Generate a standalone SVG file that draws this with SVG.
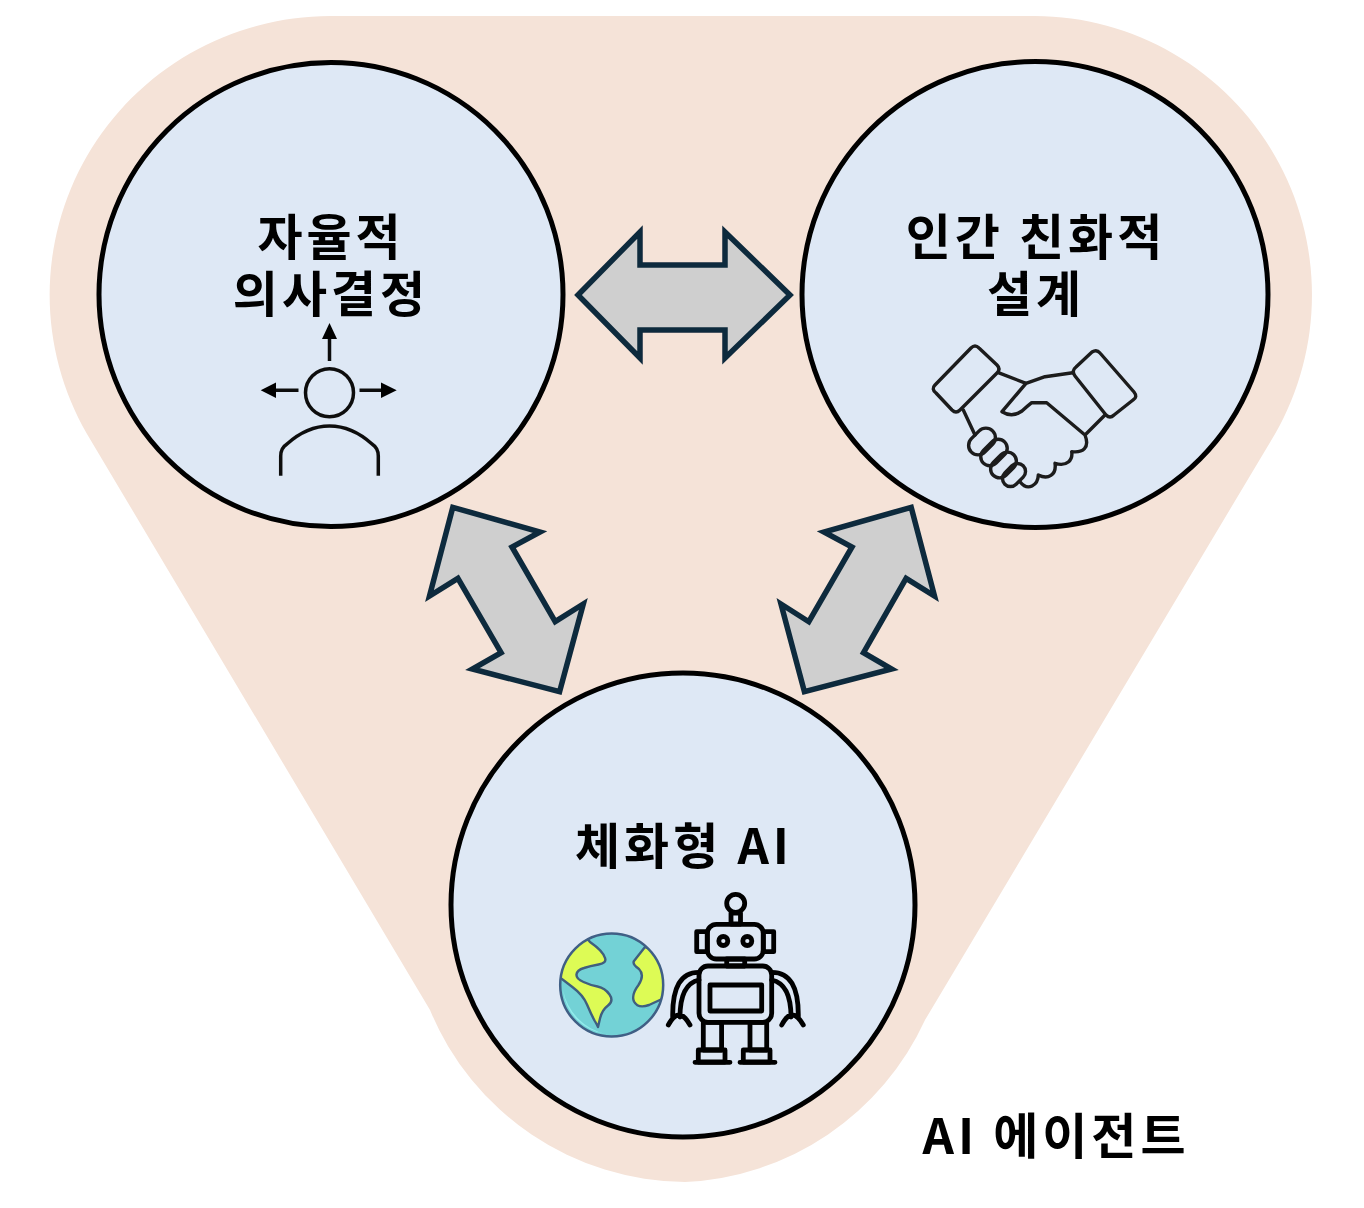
<svg xmlns="http://www.w3.org/2000/svg" width="1364" height="1208" viewBox="0 0 1364 1208">
<style>
.c{fill:#DEE8F5;stroke:#000;stroke-width:5}
.a{fill:#CFCFCF;stroke:#0F2A3C;stroke-width:5.500;stroke-linejoin:miter;stroke-miterlimit:10}
.t{font-family:"Noto Sans CJK KR","Noto Sans",sans-serif;font-weight:700;font-size:49px;letter-spacing:4px;text-anchor:middle;fill:#000}
.i{fill:none;stroke:#111;stroke-width:3.500;stroke-linejoin:round}
.h{fill:none;stroke:#1c1c1c;stroke-width:3.400;stroke-linejoin:round;stroke-linecap:round}
.r{fill:none;stroke:#000;stroke-width:4.800;stroke-linejoin:round;stroke-linecap:round}
.l{fill:#DDFB55;stroke:#3F5F7F;stroke-width:2.400;stroke-linejoin:round}
</style>
<defs>
<filter id="soft" x="0" y="0" width="100%" height="100%"><feGaussianBlur stdDeviation="0.600"/></filter>
<clipPath id="globe"><circle cx="611.700" cy="985" r="51.500"/></clipPath>
</defs>
<rect width="1364" height="1208" fill="#fff"/>
<g filter="url(#soft)">
<path id="blob" fill="#F5E3D8" d="M330 16H1035A278 279 0 0 1 1275 434L925 1020A278 278 0 0 1 685 1182A278 278 0 0 1 430 1010L87 434A281 279 0 0 1 330 16Z"/>
<g id="connectors">
<path class="a" d="M578 295L640 232V265H725V232L790 295L725 358V330H640V358Z"/>
<path class="a" d="M452.800 507.300L540 532L512 547L555.200 621.700L583.300 604L559.600 691.700L472.400 669L501.100 652.700L457.900 578.300L429.500 596Z"/>
<path class="a" d="M911.200 507.300L824 532L852 547L808.800 621.700L781 604L804.400 691.700L891.600 669L863.500 652.700L906.100 578.300L934.500 596Z"/>
</g>
<g id="node-autonomy">
<circle class="c" cx="331" cy="294.500" r="232"/>
<text class="t"><tspan x="331" y="255">자율적</tspan><tspan x="331" y="312">의사결정</tspan></text>
<circle class="i" cx="329.500" cy="392.700" r="24"/>
<path class="i" d="M329.500 361V335M298.500 390.300H272M359.500 390.300H386M280.700 475.700V456Q280.700 448 287 444Q307 426 329.500 426Q352 426 372 444Q378.300 448 378.300 456V475.700"/>
<path fill="#000" d="M329.500 323L337 339H322ZM260.700 390.300L276 382.500V398ZM396.700 390.300L381 382.500V398Z"/>
</g>
<g id="node-human">
<circle class="c" cx="1035" cy="294.500" r="233"/>
<text class="t"><tspan x="1036" y="255">인간 친화적</tspan><tspan x="1036" y="312">설계</tspan></text>
<path class="h" d="M971 348Q975 344 979 348L997 365Q1001 369 997 373L960 410Q956 414 952 410L936 393Q931 389 935 385Z"/>
<path class="h" d="M1092 352Q1096.700 349 1100 353L1134 392Q1138 397 1133 400L1114 415Q1110 419 1106 415L1075 376Q1071 371 1076 367Z"/>
<path class="h" d="M998.300 372.700L1026 383.300L1045 376.700L1072.700 372.700M1026 383.300L1002 411.700Q1012 418 1022 411Q1026.700 406.700 1031.700 402.700H1046.700L1085 435L1105 415M1085 435C1090 448 1083 453 1071.700 451.700C1073 460 1067 467 1055 463.300C1056.700 475 1048 480 1038.300 475C1038 485 1028 492 1020 481.700M963.300 410L975 435"/>
<g class="h">
<rect x="967" y="432" width="30" height="19" rx="9.500" transform="rotate(-45 982 441.500)"/>
<rect x="979" y="443.500" width="30" height="18" rx="9" transform="rotate(-45 994 452.500)"/>
<rect x="989" y="456" width="29" height="18" rx="9" transform="rotate(-45 1003.500 465)"/>
<rect x="1001" y="467" width="26" height="16" rx="8" transform="rotate(-45 1014 475)"/>
</g>
</g>
<g id="node-embodied">
<circle class="c" cx="683" cy="905" r="232"/>
<text class="t" x="684" y="864">체화형 AI</text>
<circle cx="611.700" cy="985" r="51.500" fill="#73D2D6"/>
<path d="M563 990A49 49 0 0 0 606 1034A56 56 0 0 1 563 990Z" fill="#93ECEC"/>
<g clip-path="url(#globe)">
<path class="l" d="M590 942Q603 951 605 958Q607 963 598.500 964.500Q590 966 584 968Q577 970 576.500 974.500Q576 979 583.500 982Q590 985 597.500 986.500Q605 988 609.500 994.500Q614 1001 608 1005.500Q602 1010 600 1018.500L598 1027Q595 1021 594.500 1020.500Q591 1014 587 1004.500Q583 995 573 987.500L558 976L562 950L585 936Z"/>
<path class="l" d="M645 947L634 961Q632 964 639 969Q645 975 638.500 985Q631 995 634 1001.500Q638 1009 649 1005L662 999L672 995L670 955Z"/>
</g>
<circle cx="611.700" cy="985" r="51.500" fill="none" stroke="#3F5F85" stroke-width="2.500"/>
<g class="r">
<circle cx="735.700" cy="903.300" r="9"/>
<rect x="731" y="913" width="9.500" height="11"/>
<rect x="707.300" y="924.300" width="56" height="34.700" rx="9"/>
<rect x="696.700" y="931.700" width="10.600" height="20"/>
<rect x="763.300" y="931.700" width="10.400" height="20"/>
<circle cx="723.300" cy="941" r="4.500"/>
<circle cx="747.300" cy="941" r="4.500"/>
<rect x="726.700" y="959" width="18" height="7"/>
<rect x="699" y="966" width="72.700" height="56.300" rx="9"/>
<rect x="710" y="985" width="51.700" height="26"/>
<rect x="703.300" y="1022.300" width="18.300" height="27.700"/>
<rect x="750" y="1022.300" width="16.700" height="27.700"/>
<rect x="698.300" y="1050" width="26.700" height="12"/>
<rect x="743.300" y="1050" width="26.700" height="12"/>
<path d="M695 1062.300H730M740 1062.300H775M699 972.300Q672 972 672.700 1017M699 980Q680 984 680 1017M668.300 1025Q679 1005 690 1025M771.700 972.300Q799 972 798.300 1017M771.700 980Q791 984 791 1017M781.700 1025Q792 1005 803.300 1025"/>
</g>
</g>
<text id="label-agent" class="t" x="1056" y="1154">AI 에이전트</text>
</g>
</svg>
